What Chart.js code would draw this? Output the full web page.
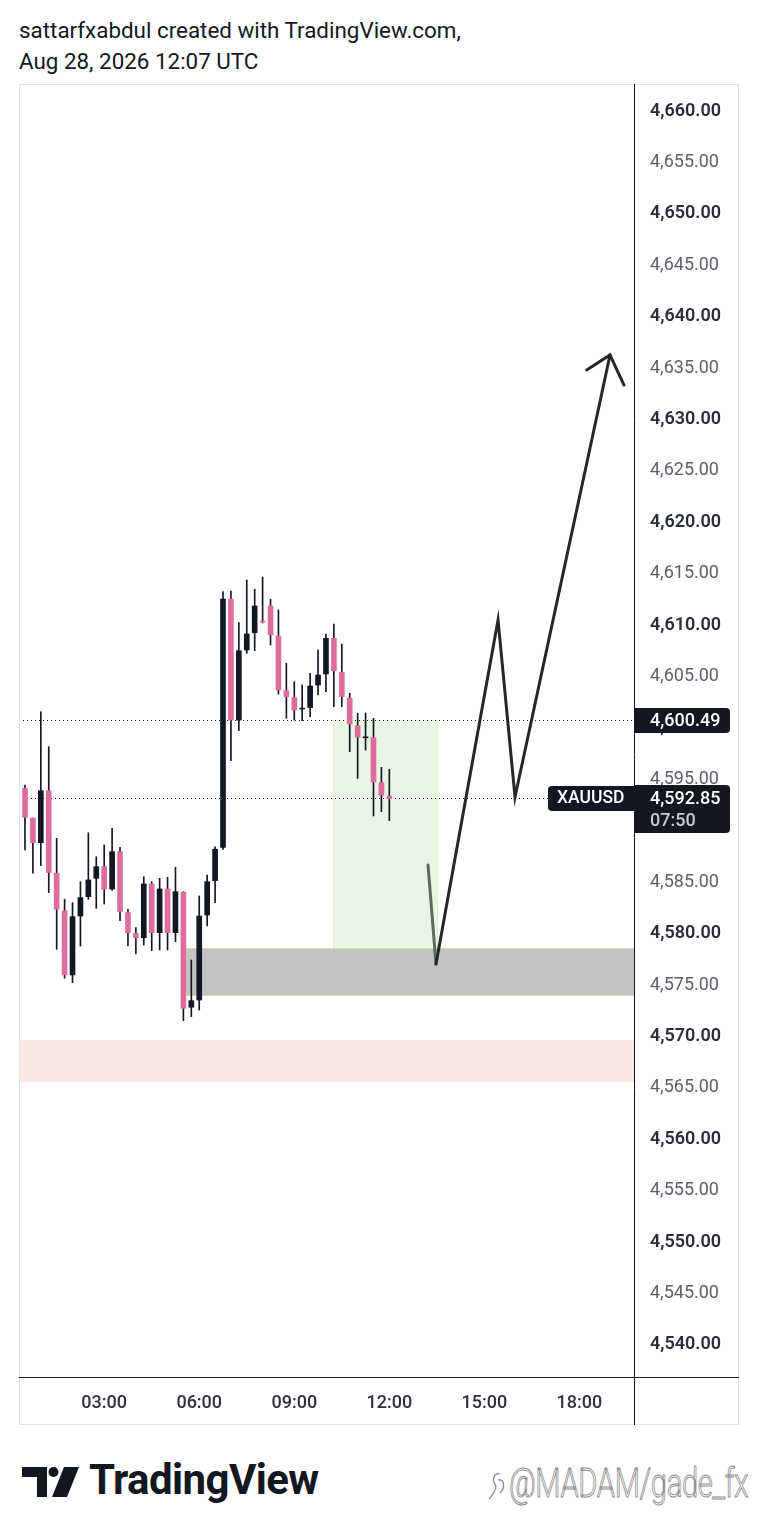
<!DOCTYPE html>
<html>
<head>
<meta charset="utf-8">
<script src="https://cdn.jsdelivr.net/npm/chart.js@4.4.1/dist/chart.umd.min.js"></script>
<style>
  html, body { margin: 0; padding: 0; background: #fff; }
  body { width: 758px; height: 1539px; position: relative; overflow: hidden; font-family: Roboto, sans-serif; }
  .head { position: absolute; left: 19px; font-size: 22.4px; color: #131722; line-height: 26px; }
  #wrap { position: absolute; left: 19px; top: 84px; width: 720px; height: 1341px; }
  .logo-text { position: absolute; left: 89px; top: 1456px; font-size: 42px; font-weight: 700; color: #131722; letter-spacing: -0.6px; line-height: 48px; }
  .mark { position: absolute; left: 509px; top: 1460px; font-size: 40px; font-weight: 300; color: #fff; -webkit-text-stroke: 1px #8c8c8c; line-height: 48px; letter-spacing: -0.5px; transform: scaleX(0.73); transform-origin: left top; white-space: nowrap; }
</style>
</head>
<body>
<div class="head" style="top:17px">sattarfxabdul created with TradingView.com,</div>
<div class="head" style="top:48px">Aug 28, 2026 12:07 UTC</div>
<div id="wrap"><canvas id="chart" width="720" height="1341"></canvas></div>

<svg style="position:absolute;left:0;top:1450px" width="90" height="60">
  <path d="M22 17 H47 V47 H37 V27 H22 Z" fill="#131722"/>
  <circle cx="53.5" cy="22" r="5" fill="#131722"/>
  <path d="M64 17 H79 L67 47 H52 Z" fill="#131722"/>
</svg>
<div class="logo-text">TradingView</div>
<svg style="position:absolute;left:486px;top:1466px" width="26" height="40">
  <path d="M14 8 C8 6 6 14 9 18 C12 22 6 30 3 33 M12 14 C18 12 20 22 14 27" fill="none" stroke="#8c8c8c" stroke-width="1.3"/>
</svg>
<div class="mark">@MADAM/gade_fx</div>

<script>
// 15 minute candles, XAUUSD, Aug 28
const times = ['00:15','00:30','00:45','01:00','01:15','01:30','01:45','02:00','02:15','02:30','02:45','03:00',
  '03:15','03:30','03:45','04:00','04:15','04:30','04:45','05:00','05:15','05:30','05:45','06:00',
  '06:15','06:30','06:45','07:00','07:15','07:30','07:45','08:00','08:15','08:30','08:45','09:00',
  '09:15','09:30','09:45','10:00','10:15','10:30','10:45','11:00','11:15','11:30','11:45','12:00'];
const opens  = [4600.50,4593.84,4590.93,4588.55,4593.61,4585.58,4581.94,4575.69,4581.42,4583.30,4585.09,4586.22,
  4584.05,4587.68,4581.75,4579.74,4579.31,4584.54,4579.80,4584.05,4579.80,4583.73,4572.55,4573.25,
  4581.52,4584.86,4588.10,4612.25,4600.48,4607.29,4608.98,4610.10,4611.57,4608.65,4603.34,4602.66,
  4601.55,4601.69,4603.89,4604.96,4608.43,4605.12,4602.59,4599.93,4598.75,4598.76,4594.39,4593.09];
const highs  = [4600.60,4594.16,4590.95,4601.29,4597.89,4588.98,4583.05,4582.72,4584.76,4589.52,4587.19,4588.33,
  4589.95,4588.10,4582.08,4580.29,4585.25,4584.76,4585.09,4585.19,4586.16,4583.79,4577.14,4583.37,
  4585.41,4588.16,4612.96,4613.03,4609.95,4614.10,4613.19,4614.39,4612.23,4611.18,4606.00,4604.21,
  4603.89,4605.03,4607.29,4608.85,4609.82,4607.87,4603.08,4601.14,4601.17,4600.65,4595.88,4595.69];
const lows   = [4593.80,4587.84,4585.58,4586.32,4583.69,4578.18,4575.37,4574.94,4578.50,4583.05,4582.17,4582.59,
  4583.90,4580.97,4578.51,4577.73,4578.60,4578.05,4578.12,4578.12,4578.93,4571.24,4571.63,4572.28,
  4580.45,4582.72,4587.90,4596.53,4599.44,4606.97,4607.22,4609.92,4607.78,4603.01,4600.65,4600.48,
  4600.42,4600.81,4602.92,4603.24,4601.78,4601.78,4597.40,4594.81,4597.57,4591.15,4591.57,4590.69];
const closes = [4593.90,4591.02,4588.55,4593.61,4585.64,4582.08,4575.69,4581.36,4583.21,4584.93,4586.22,4584.05,
  4587.68,4581.85,4579.80,4579.31,4584.54,4579.80,4584.05,4579.80,4583.79,4572.45,4573.19,4581.42,
  4584.76,4587.92,4612.25,4600.48,4607.22,4608.85,4611.57,4610.00,4608.75,4603.40,4602.75,4601.46,
  4601.55,4603.79,4604.86,4608.43,4605.28,4602.75,4600.10,4598.80,4598.75,4594.48,4593.19,4592.85];

const priceTicks = [4540,4545,4550,4555,4560,4565,4570,4575,4580,4585,4590,4595,4600,
  4605,4610,4615,4620,4625,4630,4635,4640,4645,4650,4655,4660];
const timeTicks = [3, 6, 9, 12, 15, 18];

const lastPrice = 4592.85;
const prevLine = 4600.49;
const symbol = 'XAUUSD';
const countdown = '07:50';

// drawn zones: [fromHour, toHour, lowPrice, highPrice]
const greenZone = [10.222, 13.505, 4578.31, 4600.49];
const grayZone = [5.582, null, 4573.74, 4578.31];
const pinkZone = [null, null, 4565.28, 4569.36];

// projected path drawn by the author
const pathHours  = [13.473, 15.431, 15.967, 18.966];
const pathPrices = [4576.76, 4610.21, 4593.00, 4635.98];
const leadHours  = [13.221, 13.473];
const leadPrices = [4586.38, 4576.76];
const arrowHours  = [18.23, 18.966, 19.408];
const arrowPrices = [4634.52, 4635.98, 4633.06];

const BULL = '#131722';
const BEAR = '#df6d9c';

function hourOf(label) {
  const p = label.split(':');
  return parseInt(p[0]) + parseInt(p[1]) / 60;
}

function fmt(v) {
  return v.toLocaleString('en-US', { minimumFractionDigits: 2, maximumFractionDigits: 2 });
}

const candleColors = closes.map((c, i) => c >= opens[i] ? BULL : BEAR);

// tick hidden behind the last price label
function underLastLabel(v) {
  return v < lastPrice && v > lastPrice - 4;
}

const zonesPlugin = {
  id: 'zones',
  beforeDatasetsDraw(chart) {
    const { ctx, chartArea: a, scales: { x, y } } = chart;
    const rect = (z, fill, stroke) => {
      const x1 = z[0] === null ? a.left : x.getPixelForValue(z[0]);
      const x2 = z[1] === null ? a.right : x.getPixelForValue(z[1]);
      const y1 = y.getPixelForValue(z[3]);
      const y2 = y.getPixelForValue(z[2]);
      ctx.fillStyle = fill;
      ctx.fillRect(x1, y1, x2 - x1, y2 - y1);
      if (stroke) {
        ctx.strokeStyle = stroke;
        ctx.lineWidth = 1;
        ctx.strokeRect(Math.round(x1) + 0.5, Math.round(y1) + 0.5, x2 - x1, y2 - y1);
      }
    };
    ctx.save();
    ctx.beginPath();
    ctx.rect(a.left, a.top, a.right - a.left, a.bottom - a.top);
    ctx.clip();
    rect(pinkZone, '#fde8e8', null);
    rect(greenZone, '#e9f5e7', '#ecebc4');
    rect(grayZone, '#c3c3c3', '#dcd8a8');

    // dotted price lines
    ctx.strokeStyle = '#131722';
    ctx.setLineDash([1, 3]);
    [prevLine, lastPrice].forEach(p => {
      const yy = Math.round(y.getPixelForValue(p)) + 0.5;
      ctx.beginPath();
      ctx.moveTo(a.left, yy);
      ctx.lineTo(a.right, yy);
      ctx.stroke();
    });
    ctx.restore();
  },
  afterDraw(chart) {
    const { ctx, chartArea: a, scales: { y }, width, height } = chart;
    ctx.save();
    // frame and axis lines
    ctx.strokeStyle = '#e0e3eb';
    ctx.lineWidth = 1;
    ctx.strokeRect(0.5, 0.5, width - 1, height - 1);
    ctx.strokeStyle = '#131722';
    ctx.beginPath();
    ctx.moveTo(a.right + 0.5, 0);
    ctx.lineTo(a.right + 0.5, height);
    ctx.moveTo(0, a.bottom + 0.5);
    ctx.lineTo(width, a.bottom + 0.5);
    ctx.stroke();

    // price labels on the axis
    ctx.fillStyle = '#131722';
    const py = Math.round(y.getPixelForValue(prevLine));
    ctx.beginPath();
    ctx.roundRect(a.right, py - 12, 96, 25, [0, 4, 4, 0]);
    ctx.fill();
    const cy = Math.round(y.getPixelForValue(lastPrice));
    ctx.beginPath();
    ctx.roundRect(a.right, cy - 13, 96, 48, [0, 4, 4, 0]);
    ctx.fill();
    ctx.beginPath();
    ctx.roundRect(a.right - 86, cy - 12, 86, 25, [4, 0, 0, 4]);
    ctx.fill();

    ctx.textBaseline = 'middle';
    ctx.textAlign = 'left';
    ctx.font = '500 18px Roboto';
    ctx.fillStyle = '#ffffff';
    ctx.fillText(fmt(prevLine), a.right + 16, py + 1);
    ctx.fillText(fmt(lastPrice), a.right + 16, cy + 1);
    ctx.fillStyle = '#c9cacd';
    ctx.fillText(countdown, a.right + 16, cy + 23);
    ctx.fillStyle = '#ffffff';
    ctx.font = '500 17.5px Roboto';
    ctx.fillText(symbol, a.right - 77, cy + 1);
    ctx.restore();
  }
};

const ctx = document.getElementById('chart');

new Chart(ctx, {
  type: 'bar',
  data: {
    datasets: [
      {
        type: 'line',
        data: pathHours.map((h, i) => ({ x: h, y: pathPrices[i] })),
        borderColor: '#262626',
        borderWidth: 3,
        pointRadius: 0,
        borderCapStyle: 'round',
        borderJoinStyle: 'miter',
        order: 0
      },
      {
        type: 'line',
        data: arrowHours.map((h, i) => ({ x: h, y: arrowPrices[i] })),
        borderColor: '#262626',
        borderWidth: 3,
        pointRadius: 0,
        borderCapStyle: 'round',
        order: 0
      },
      {
        type: 'line',
        data: leadHours.map((h, i) => ({ x: h, y: leadPrices[i] })),
        borderColor: '#5c6a60',
        borderWidth: 3,
        pointRadius: 0,
        borderCapStyle: 'round',
        order: 0
      },
      {
        label: 'body',
        data: times.map((t, i) => ({ x: hourOf(t), y: [opens[i], closes[i]] })),
        backgroundColor: candleColors,
        barThickness: 5,
        minBarLength: 1,
        grouped: false,
        order: 1
      },
      {
        label: 'wick',
        data: times.map((t, i) => ({ x: hourOf(t), y: [lows[i], highs[i]] })),
        backgroundColor: '#131722',
        barThickness: 1,
        grouped: false,
        order: 2
      }
    ]
  },
  options: {
    responsive: false,
    animation: false,
    events: [],
    layout: { padding: 0 },
    plugins: {
      legend: { display: false },
      tooltip: { enabled: false }
    },
    scales: {
      x: {
        type: 'linear',
        min: 0.311,
        max: 19.723,
        offset: false,
        grid: { display: false, drawTicks: false },
        border: { display: false },
        afterBuildTicks: axis => { axis.ticks = timeTicks.map(v => ({ value: v })); },
        afterFit: axis => {
          axis.height = 48;
          axis.paddingLeft = 0;
          axis.paddingRight = 0;
        },
        ticks: {
          padding: 16,
          maxRotation: 0,
          autoSkip: false,
          color: '#2f323c',
          font: { family: 'Roboto', size: 18, weight: '500' },
          callback: v => String(v).padStart(2, '0') + ':00'
        }
      },
      y: {
        position: 'right',
        min: 4536.59,
        max: 4662.334,
        grid: { display: false, drawTicks: false },
        border: { display: false },
        afterBuildTicks: axis => { axis.ticks = priceTicks.map(v => ({ value: v })); },
        afterFit: axis => {
          axis.width = 105;
          axis.paddingTop = 0;
          axis.paddingBottom = 0;
        },
        ticks: {
          padding: 16,
          labelOffset: 3,
          autoSkip: false,
          color: c => {
            if (!c.tick) return '#5d606b';
            if (underLastLabel(c.tick.value)) return 'rgba(0,0,0,0)';
            return c.tick.value % 10 === 0 ? '#2a2e39' : '#5d606b';
          },
          font: c => ({ family: 'Roboto', size: 18, weight: c.tick && c.tick.value % 10 === 0 ? '600' : '400' }),
          callback: v => fmt(v)
        }
      }
    }
  },
  plugins: [zonesPlugin]
});
</script>
</body>
</html>
